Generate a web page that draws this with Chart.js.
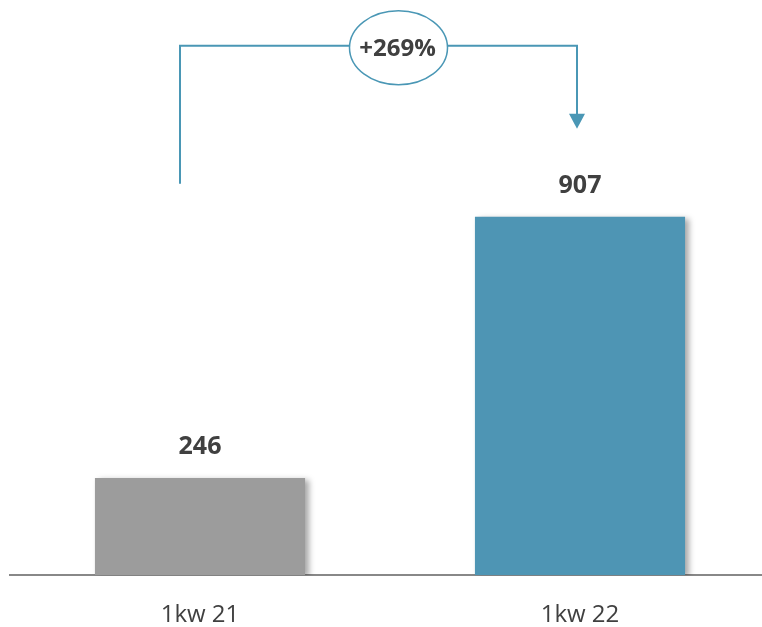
<!DOCTYPE html>
<html><head><meta charset="utf-8">
<script src="https://cdn.jsdelivr.net/npm/chart.js@4"></script>
<style>html,body{margin:0;padding:0;background:#fff;overflow:hidden;}#wrap{width:770px;height:656px;}</style>
</head><body><div id="wrap"><canvas id="c"></canvas></div>
<script>
const categories = ['1kw 21', '1kw 22'];
const values = [246, 907];
const barColors = ['#9c9c9c', '#4e95b4'];
const changeLabel = '+' + Math.round((values[1] / values[0] - 1) * 100) + '%';

const shadowPlugin = {
  id: 'shadow',
  beforeDatasetsDraw(chart) {
    const ctx = chart.ctx; ctx.save();
    ctx.shadowColor = 'rgba(0,0,0,0.35)'; ctx.shadowBlur = 6; ctx.shadowOffsetX = 4; ctx.shadowOffsetY = 2;
  },
  afterDatasetsDraw(chart) { chart.ctx.restore(); }
};

const labelPlugin = {
  id: 'labels',
  afterDraw(chart) {
    const ctx = chart.ctx, meta = chart.getDatasetMeta(0);
    ctx.save();
    ctx.fillStyle = '#404040'; ctx.font = 'bold 25px "Open Sans"';
    ctx.textAlign = 'center'; ctx.textBaseline = 'middle';
    meta.data.forEach((b, i) => ctx.fillText(String(values[i]), b.x, b.y - 31));
    const col = '#4a97b5';
    const x1 = meta.data[0].x - 20, x2 = meta.data[1].x - 3;
    const top = meta.data[1].y - 171;
    const leftBottom = meta.data[1].y - 33;
    const arrowTip = meta.data[1].y - 88;
    ctx.strokeStyle = col; ctx.lineWidth = 2;
    ctx.beginPath(); ctx.moveTo(x1, leftBottom); ctx.lineTo(x1, top); ctx.lineTo(x2, top); ctx.lineTo(x2, arrowTip - 12); ctx.stroke();
    ctx.fillStyle = col; ctx.beginPath(); ctx.moveTo(x2 - 8, arrowTip - 15); ctx.lineTo(x2 + 8, arrowTip - 15); ctx.lineTo(x2, arrowTip); ctx.closePath(); ctx.fill();
    const cx = (x1 + x2) / 2 + 20, cy = top + 2;
    ctx.fillStyle = '#fff'; ctx.beginPath(); ctx.ellipse(cx, cy, 49, 37, 0, 0, Math.PI * 2); ctx.fill();
    ctx.lineWidth = 1.5; ctx.stroke();
    ctx.fillStyle = '#404040'; ctx.font = 'bold 24px "Open Sans"';
    ctx.fillText(changeLabel, cx - 1, cy + 1);
    ctx.restore();
  }
};

new Chart(document.getElementById('c'), {
  type: 'bar',
  data: { labels: categories, datasets: [{ data: values, backgroundColor: barColors, barPercentage: 0.553, categoryPercentage: 1 }] },
  options: {
    responsive: true, maintainAspectRatio: false, animation: false,
    layout: { padding: { left: 10, right: 0, top: 10, bottom: 0 } },
    plugins: { legend: { display: false }, tooltip: { enabled: false } },
    scales: {
      x: {
        grid: { display: false, drawTicks: false },
        border: { display: true, color: '#888', width: 2 },
        ticks: { color: '#404040', font: { family: 'Open Sans', size: 24 }, padding: 26 }
      },
      y: { display: false, min: 0, max: 1430 }
    }
  },
  plugins: [shadowPlugin, labelPlugin]
});
</script></body></html>
